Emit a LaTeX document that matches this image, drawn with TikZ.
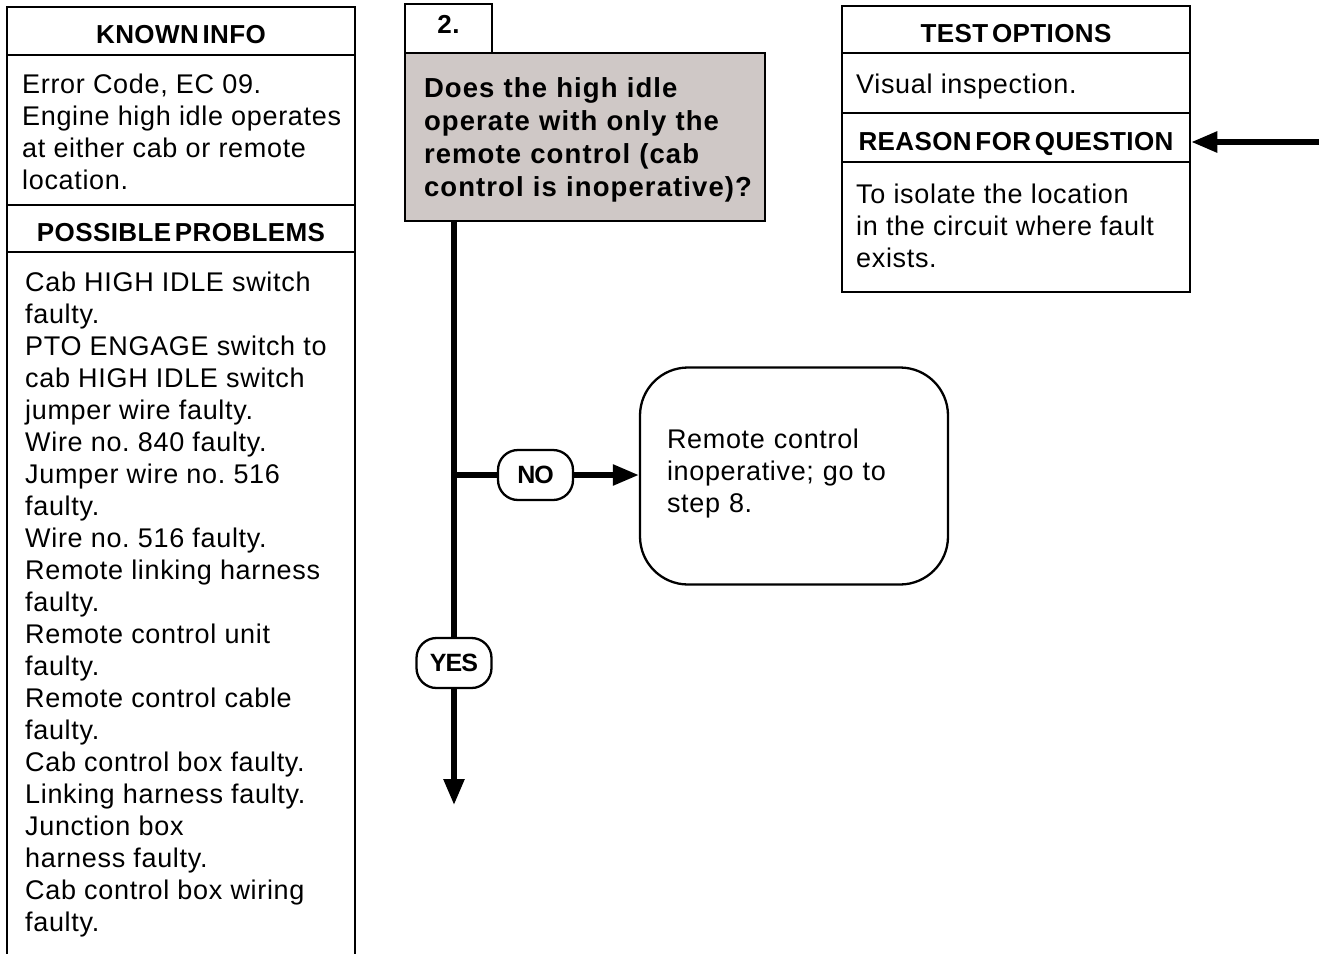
\documentclass[tikz,border=0pt]{standalone}
\usepackage{fontspec}
\setmainfont{Liberation Sans}
\newfontfamily\bodyfont[LetterSpace=2.5]{Liberation Sans}
\newfontfamily\headfont[LetterSpace=1.5,WordSpace=0.5]{Liberation Sans}
\newfontfamily\qfont[LetterSpace=4]{Liberation Sans}
\newfontfamily\ansfont[LetterSpace=-4]{Liberation Sans}
\usetikzlibrary{arrows.meta}
\definecolor{qgray}{RGB}{207,200,198}
\frenchspacing
\begin{document}
\begin{tikzpicture}[x=1pt,y=1pt,
 frame/.style={draw=black,line width=2.5pt},
 header/.style={draw=black,line width=2.5pt,minimum width=348pt,inner sep=0pt,text height=25pt,text depth=0pt,font=\headfont\bfseries\fontsize{26}{30}\selectfont},
 bodytext/.style={inner sep=0pt,anchor=north west,align=left,font=\bodyfont\fontsize{27}{32}\selectfont\frenchspacing},
 qbox/.style={draw=black,line width=2.5pt,fill=qgray,minimum width=360pt,minimum height=168pt,text width=322pt,inner xsep=19pt,inner ysep=0pt,align=left,font=\qfont\bfseries\fontsize{27.5}{33}\selectfont},
 stepbox/.style={draw=black,line width=2.5pt,fill=white,minimum width=87pt,minimum height=49pt,inner sep=0pt,font=\headfont\bfseries\fontsize{26}{30}\selectfont},
 answer/.style={draw=black,line width=2.3pt,fill=white,rounded corners=20pt,minimum width=75pt,minimum height=50pt,inner sep=0pt,font=\ansfont\bfseries\fontsize{25}{28}\selectfont},
 resultbox/.style={draw=black,line width=2.3pt,rounded corners=48pt,minimum width=308pt,minimum height=217pt,text width=254pt,inner xsep=27pt,inner ysep=0pt,align=left,font=\bodyfont\fontsize{27}{32}\selectfont\frenchspacing},
 conn/.style={line width=5.5pt},
 arrow/.style={line width=5.5pt,-{Triangle[length=26pt,width=20pt]}}
]
\useasboundingbox (0,0) rectangle (1319,-953);
% left column frame (open at the bottom)
\draw[frame] (7,-960) -- (7,-7) -- (355,-7) -- (355,-960);
\node[header,minimum height=48pt] (known) at (181,-31) {KNOWN INFO};
\node[bodytext] (knowntxt) at (22,-70.6) {\strut Error Code, EC 09.\\ Engine high idle operates\\ at either cab or remote\\ location.};
\node[header,minimum height=47pt] (poss) at (181,-228.5) {POSSIBLE PROBLEMS};
\node[bodytext] (posstxt) at (25,-269.3) {\strut Cab HIGH IDLE switch\\ faulty.\\ PTO ENGAGE switch to\\ cab HIGH IDLE switch\\ jumper wire faulty.\\ Wire no. 840 faulty.\\ Jumper wire no. 516\\ faulty.\\ Wire no. 516 faulty.\\ Remote linking harness\\ faulty.\\ Remote control unit\\ faulty.\\ Remote control cable\\ faulty.\\ Cab control box faulty.\\ Linking harness faulty.\\ Junction box\\ harness faulty.\\ Cab control box wiring\\ faulty.};
% right column
\draw[frame] (842,-6) rectangle (1190,-292);
\node[header,minimum height=47pt] (test) at (1016,-29.5) {TEST OPTIONS};
\node[bodytext] (testtxt) at (856,-70.6) {\strut Visual inspection.};
\node[header,minimum height=49pt] (reason) at (1016,-137.5) {REASON FOR QUESTION};
\node[bodytext] (reasontxt) at (856,-180.6) {\strut To isolate the location\\ in the circuit where fault\\ exists.};
% question
\node[qbox] (q) at (585,-137) {\rule{0pt}{29.1pt}\mbox{Does the high idle}\\ \mbox{operate with only the}\\ \mbox{remote control (cab}\\ \mbox{control is inoperative)?}\strut};
\node[stepbox] (step) at (448.5,-28.5) {\raisebox{9pt}{2.}};
% answers
\node[answer] (yes) at (454,-663) {YES};
\node[answer] (no) at (535.5,-475) {NO};
\node[resultbox] (remote) at (794,-476) {Remote control\\ inoperative; go to\\ step 8.\strut};
\coordinate (jn) at (454,-475);
\coordinate (down) at (454,-805);
\coordinate (rin) at (1319,-142);
\draw[conn] (q.south -| yes.north) -- (yes.north);
\draw[arrow] (yes.south) -- (down);
\draw[conn] (jn) -- (no.west);
\draw[arrow] (no.east) -- (remote.west |- no.east);
\draw[arrow] (rin) -- (reason.east |- rin);
\end{tikzpicture}
\end{document}
